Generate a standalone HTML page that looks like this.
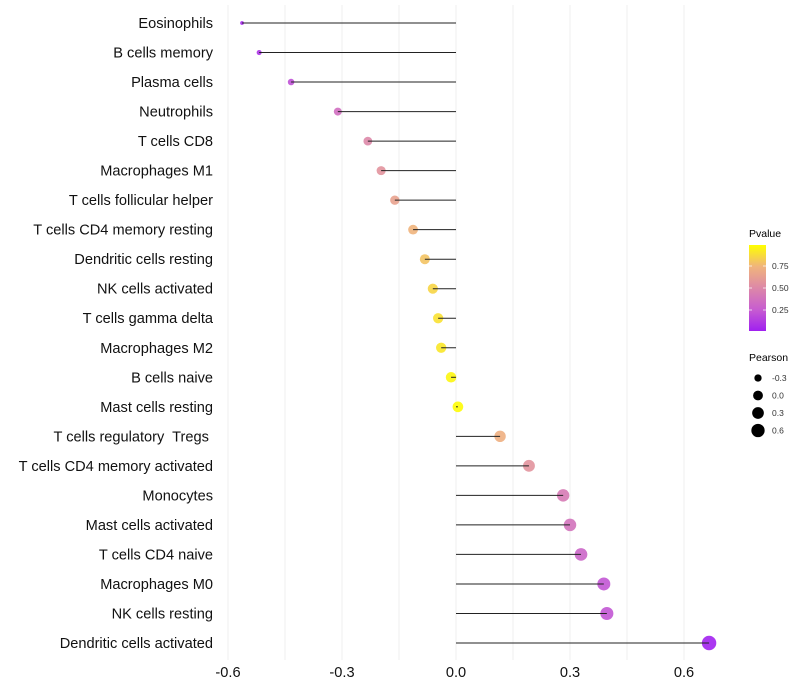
<!DOCTYPE html>
<html><head><meta charset="utf-8"><style>
body{margin:0;background:#fff;font-family:"Liberation Sans",sans-serif;}
svg{display:block}
</style></head><body>
<svg id="chart" width="800" height="700">
<defs><linearGradient id="pg" x1="0" y1="1" x2="0" y2="0">
<stop offset="0" stop-color="#a020f0"/><stop offset="0.25" stop-color="#c75dd0"/><stop offset="0.5" stop-color="#dd88a8"/><stop offset="0.75" stop-color="#f0b47c"/><stop offset="1" stop-color="#ffff00"/></linearGradient></defs>
<g id="grid"></g>
<g id="marks"></g>
<g id="ylabels"></g>
<g id="xlabels"></g>
<g>
<text x="749" y="237" font-size="10.5">Pvalue</text>
<rect x="749" y="245" width="17" height="86" fill="url(#pg)"/>
<line x1="749" y1="266" x2="752" y2="266" stroke="#fff" opacity="0.7"/><line x1="763" y1="266" x2="766" y2="266" stroke="#fff" opacity="0.7"/>
<line x1="749" y1="288" x2="752" y2="288" stroke="#fff" opacity="0.7"/><line x1="763" y1="288" x2="766" y2="288" stroke="#fff" opacity="0.7"/>
<line x1="749" y1="310" x2="752" y2="310" stroke="#fff" opacity="0.7"/><line x1="763" y1="310" x2="766" y2="310" stroke="#fff" opacity="0.7"/>
<text x="772" y="269" font-size="8.5" fill="#333">0.75</text>
<text x="772" y="291" font-size="8.5" fill="#333">0.50</text>
<text x="772" y="313" font-size="8.5" fill="#333">0.25</text>
</g>
<g id="sizeleg">
<text x="749" y="361" font-size="10.5">Pearson</text>
</g>
</svg>
<script>
const categories=["Eosinophils","B cells memory","Plasma cells","Neutrophils","T cells CD8","Macrophages M1","T cells follicular helper","T cells CD4 memory resting","Dendritic cells resting","NK cells activated","T cells gamma delta","Macrophages M2","B cells naive","Mast cells resting","T cells regulatory  Tregs ","T cells CD4 memory activated","Monocytes","Mast cells activated","T cells CD4 naive","Macrophages M0","NK cells resting","Dendritic cells activated"];
const pearson=[-0.563,-0.518,-0.434,-0.311,-0.232,-0.197,-0.161,-0.113,-0.082,-0.061,-0.047,-0.039,-0.013,0.005,0.116,0.192,0.282,0.300,0.329,0.389,0.397,0.666];
const pvalue=[0.03,0.08,0.2,0.35,0.5,0.56,0.65,0.75,0.8,0.86,0.9,0.92,0.97,0.99,0.72,0.56,0.42,0.38,0.3,0.22,0.22,0.01];
const xTicks=[-0.6,-0.3,0,0.3,0.6];
const xTickLabels=["-0.6","-0.3","0.0","0.3","0.6"];
const legendSizes=[-0.3,0,0.3,0.6];
const legendLabels=["-0.3","0.0","0.3","0.6"];
const NS="http://www.w3.org/2000/svg";
const x=v=>456+v*380;
const y=i=>23+i*(620/21);
const r=v=>1.2+Math.sqrt(Math.max(0,29*(v+0.58)));
const stops=[[0,[160,32,240]],[0.25,[199,93,208]],[0.5,[221,136,168]],[0.75,[240,180,124]],[1,[255,255,0]]];
function col(p){for(let k=1;k<stops.length;k++){if(p<=stops[k][0]){const a=stops[k-1],b=stops[k],t=(p-a[0])/(b[0]-a[0]);return "rgb("+a[1].map((c,j)=>Math.round(c+(b[1][j]-c)*t)).join(",")+")";}}return "rgb(255,255,0)";}
function mk(t,at,parent){const e=document.createElementNS(NS,t);for(const k in at)e.setAttribute(k,at[k]);parent.appendChild(e);return e;}
const grid=document.getElementById('grid');
[-0.6,-0.45,-0.3,-0.15,0,0.15,0.3,0.45,0.6].forEach(v=>{
const l=mk('line',{x1:x(v),x2:x(v),y1:5,y2:660,stroke:'#ebebeb','stroke-width':0.8},grid);


});
const marks=document.getElementById('marks');
categories.forEach((c,i)=>{
const pt=mk('circle',{cx:x(pearson[i]),cy:y(i),r:r(pearson[i]),fill:col(pvalue[i]),opacity:0.9},marks);


const ln=mk('line',{x1:x(0),x2:x(pearson[i]),y1:y(i),y2:y(i),stroke:'#222','stroke-width':1},marks);


});
const yl=document.getElementById('ylabels');
categories.forEach((c,i)=>{
const t=mk('text',{x:213,y:y(i)+5,'text-anchor':'end','font-size':14.6,fill:'#111'},yl);
t.setAttribute('style','white-space:pre');
t.textContent=c;


});
const xl=document.getElementById('xlabels');
xTicks.forEach((v,i)=>{
const t=mk('text',{x:x(v),y:677,'text-anchor':'middle','font-size':14.6,fill:'#111'},xl);
t.textContent=xTickLabels[i];


});
const sl=document.getElementById('sizeleg');
legendSizes.forEach((v,i)=>{
const cy=378+i*17.5;
const c=mk('circle',{cx:758,cy:cy,r:r(v)-0.4,fill:'#000'},sl);


const t=mk('text',{x:772,y:cy+3,'font-size':8.5,fill:'#333'},sl);
t.textContent=legendLabels[i];


});
</script>
</body></html>
